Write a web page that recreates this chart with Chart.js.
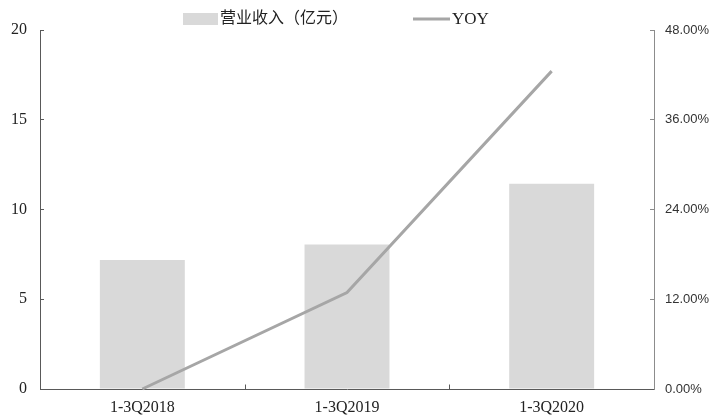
<!DOCTYPE html>
<html>
<head>
<meta charset="utf-8">
<script src="https://cdn.jsdelivr.net/npm/chart.js@4/dist/chart.umd.min.js"></script>
<style>
    html, body { margin: 0; padding: 0; background: #fff; }
    #wrap { width: 713px; height: 418px; }
</style>
</head>
<body>
<div id="wrap"><canvas id="revenueChart" width="713" height="418"></canvas></div>
<script>
// values
const categories = ["1-3Q2018", "1-3Q2019", "1-3Q2020"]
const revenue = [7.18, 8.05, 11.44]      // 营业收入（亿元）
const yoy = [0, 12.9, 42.5]              // YOY, percent
const revenueTicks = { min: 0, max: 20, step: 5 }
const yoyTicks = { min: 0, max: 48, step: 12 }

const serif = "'Liberation Serif', 'Times New Roman', 'Noto Sans CJK SC', serif"
const sans = "'Liberation Sans', Arial, sans-serif"
const barColor = "#d9d9d9"
const lineColor = "#a6a6a6"
const axisColor = "#595959"

// legend drawn by hand so the spacing matches the original
const legendPlugin = {
    id: "manualLegend",
    afterDraw(chart) {
        const ctx = chart.ctx
        const ds = chart.data.datasets
        ctx.save()
        ctx.fillStyle = barColor
        ctx.fillRect(183, 13, 35, 12)
        ctx.fillStyle = "#222"
        ctx.textBaseline = "middle"
        ctx.textAlign = "left"
        ctx.font = "16px " + serif
        ctx.fillText(ds[0].label, 220, 19)

        ctx.strokeStyle = lineColor
        ctx.lineWidth = 3
        ctx.beginPath()
        ctx.moveTo(413, 19)
        ctx.lineTo(450, 19)
        ctx.stroke()
        ctx.font = "17px " + serif
        ctx.fillText(ds[1].label, 452, 20)
        ctx.restore()
    }
}

// category boundary ticks on the x axis point up into the plot
const xTickPlugin = {
    id: "innerXTicks",
    afterDatasetsDraw(chart) {
        const xs = chart.scales.x
        const n = chart.data.labels.length
        const ctx = chart.ctx
        const bottom = Math.round(xs.top) + 0.5
        ctx.save()
        ctx.strokeStyle = axisColor
        ctx.lineWidth = 1
        ctx.beginPath()
        for (let i = 1; i < n; i++) {
            const x = Math.round((xs.getPixelForTick(i - 1) + xs.getPixelForTick(i)) / 2) + 0.5
            ctx.moveTo(x, bottom)
            ctx.lineTo(x, bottom - 5)
        }
        ctx.stroke()
        ctx.restore()
    }
}

Chart.defaults.animation = false

new Chart(document.getElementById("revenueChart"), {
    type: "bar",
    data: {
        labels: categories,
        datasets: [
            {
                label: "营业收入（亿元）",
                data: revenue,
                backgroundColor: barColor,
                barPercentage: 0.415,
                categoryPercentage: 1,
                yAxisID: "y",
                order: 1
            },
            {
                type: "line",
                label: "YOY",
                data: yoy,
                borderColor: lineColor,
                borderWidth: 3,
                pointRadius: 0,
                tension: 0,
                clip: false,
                yAxisID: "y1",
                order: 0
            }
        ]
    },
    options: {
        responsive: false,
        layout: { padding: { top: 30, left: 0, right: 0, bottom: 0 } },
        plugins: {
            legend: { display: false },
            tooltip: { enabled: false }
        },
        scales: {
            x: {
                grid: { display: false, drawTicks: false, tickLength: 0 },
                border: { color: axisColor, width: 1 },
                ticks: { font: { family: serif, size: 16 }, color: "#222", padding: 9 },
                afterFit(scale) { scale.height = 29 }
            },
            y: {
                position: "left",
                min: revenueTicks.min,
                max: revenueTicks.max,
                grid: { drawOnChartArea: false, tickLength: -4, color: axisColor },
                border: { color: axisColor, width: 1 },
                ticks: { stepSize: revenueTicks.step, font: { family: serif, size: 16 }, color: "#222", padding: 17 },
                afterFit(scale) { scale.width = 40 }
            },
            y1: {
                position: "right",
                min: yoyTicks.min,
                max: yoyTicks.max,
                grid: { drawOnChartArea: false, tickLength: -4, color: "#8c8c8c" },
                border: { color: "#8c8c8c", width: 1 },
                ticks: {
                    stepSize: yoyTicks.step,
                    font: { family: sans, size: 13 },
                    color: "#333",
                    padding: 15,
                    callback: v => v.toFixed(2) + "%"
                },
                afterFit(scale) { scale.width = 59 }
            }
        }
    },
    plugins: [legendPlugin, xTickPlugin]
})
</script>
</body>
</html>
